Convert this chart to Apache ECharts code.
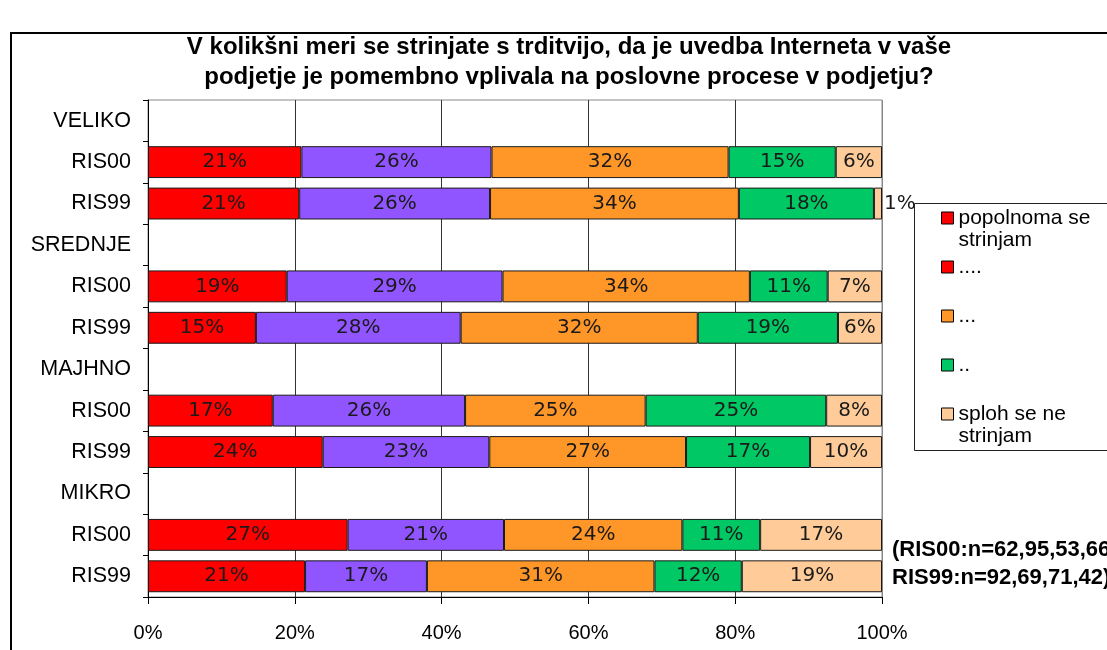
<!DOCTYPE html>
<html>
<head>
<meta charset="utf-8">
<script src="https://cdn.jsdelivr.net/npm/echarts@6/dist/echarts.min.js"></script>
<style>
html,body{margin:0;padding:0;background:#fff;}
#chart{width:1107px;height:650px;}
</style>
</head>
<body>
<div id="chart"></div>
<script>
// ---- data ----
const categories = ['VELIKO','RIS00','RIS99','SREDNJE','RIS00','RIS99','MAJHNO','RIS00','RIS99','MIKRO','RIS00','RIS99'];
const seriesNames = ['popolnoma se strinjam','....','...','..','sploh se ne strinjam'];
const legendLabels = [' \npopolnoma se\nstrinjam',' \n....\n ',' \n...\n ',' \n..\n ',' \nsploh se ne\nstrinjam'];
const popolnoma = [null,20.9,20.6,null,18.9,14.7,null,17.0,23.8,null,27.2,21.4];
const stiriPike  = [null,25.9,26.0,null,29.4,27.9,null,26.2,22.7,null,21.3,16.6];
const triPike    = [null,32.3,33.9,null,33.7,32.3,null,24.6,26.8,null,24.3,31.0];
const dvePiki    = [null,14.6,18.4,null,10.6,19.1,null,24.6,16.9,null,10.6,11.9];
const sploh      = [null,6.3,1.1,null,7.4,6.0,null,7.6,9.8,null,16.6,19.1];
const xTicks = [0,20,40,60,80,100];
const noteLines = ['(RIS00:n=62,95,53,66', 'RIS99:n=92,69,71,42)'];
const titleLines = ['V kolikšni meri se strinjate s trditvijo, da je uvedba Interneta v vaše', 'podjetje je pomembno vplivala na poslovne procese v podjetju?'];

const colors = ['#FF0000','#9155FF','#FF9628','#00C864','#FFCC99'];
const legendColors = ['#FF0000','#FF0000','#FF9628','#00C864','#FFCC99'];
const allValues = [popolnoma, stiriPike, triPike, dvePiki, sploh];

const FONT = 'Liberation Sans, Arial, sans-serif';

const series = allValues.map((arr, i) => ({
  name: seriesNames[i],
  type: 'bar',
  stack: 'total',
  barCategoryGap: '23%',
  itemStyle: { color: colors[i], borderColor: '#1a1a1a', borderWidth: 1 },
  label: {
    show: true,
    position: 'inside',
    fontFamily: 'DejaVu Sans, sans-serif',
    fontSize: 20,
    color: '#1a1a1a',
    formatter: p => (p.value == null ? '' : Math.round(p.value) + '%')
  },
  data: arr.map(v => (v != null && v < 3)
    ? { value: v, label: { position: 'right', distance: 2 } }
    : v)
}));

const chart = echarts.init(document.getElementById('chart'), null, { renderer: 'canvas' });
chart.setOption({
  animation: false,
  backgroundColor: '#fff',
  color: colors,
  title: {
    text: titleLines.join('\n'),
    left: 569,
    textAlign: 'center',
    top: 33,
    padding: 0,
    textStyle: { fontFamily: FONT, fontWeight: 'bold', fontSize: 24, lineHeight: 29.5, color: '#000' }
  },
  grid: {
    left: 148, right: 225, top: 100, bottom: 53,
    show: true, borderColor: '#888', borderWidth: 1, backgroundColor: 'transparent'
  },
  xAxis: {
    type: 'value',
    min: 0, max: 100, interval: 20,
    axisLine: { show: true, lineStyle: { color: '#000', width: 1 } },
    axisTick: { show: true, length: 7, lineStyle: { color: '#000' } },
    axisLabel: { formatter: '{value}%', fontFamily: FONT, fontSize: 20, color: '#000', margin: 26 },
    splitLine: { show: true, lineStyle: { color: ['#000','#333','#333','#333','#333','#888'], width: 1 } }
  },
  yAxis: {
    type: 'category',
    inverse: true,
    data: categories,
    axisLine: { show: true, lineStyle: { color: '#000', width: 1 } },
    axisTick: { show: true, length: 5, lineStyle: { color: '#000' } },
    axisLabel: { fontFamily: FONT, fontSize: 21.5, color: '#000', margin: 17 }
  },
  legend: {
    orient: 'vertical',
    left: 941,
    top: 185,
    padding: 0,
    itemGap: -17,
    itemWidth: 12,
    itemHeight: 12,
    icon: 'rect',
    z: 110,
    selectedMode: false,
    itemStyle: { borderColor: '#000', borderWidth: 1 },
    textStyle: { fontFamily: FONT, fontSize: 21, lineHeight: 22, color: '#000' },
    formatter: name => legendLabels[seriesNames.indexOf(name)],
    data: seriesNames.map((n, i) => ({ name: n, itemStyle: { color: legendColors[i] } }))
  },
  graphic: [
    {
      type: 'rect', z: 1, silent: true,
      shape: { x: 11, y: 33, width: 1200, height: 700 },
      style: { fill: 'none', stroke: '#000', lineWidth: 2 }
    },
    {
      type: 'rect', z: 100, silent: true,
      shape: { x: 914.5, y: 203.5, width: 300, height: 247 },
      style: { fill: '#fff', stroke: '#222', lineWidth: 1 }
    },
    {
      type: 'text', z: 100, silent: true,
      left: 892, top: 536,
      style: { text: noteLines.join('\n'), fontFamily: FONT, fontWeight: 'bold', fontSize: 22, lineHeight: 28, fill: '#000' }
    }
  ],
  series: series
});
</script>
</body>
</html>
